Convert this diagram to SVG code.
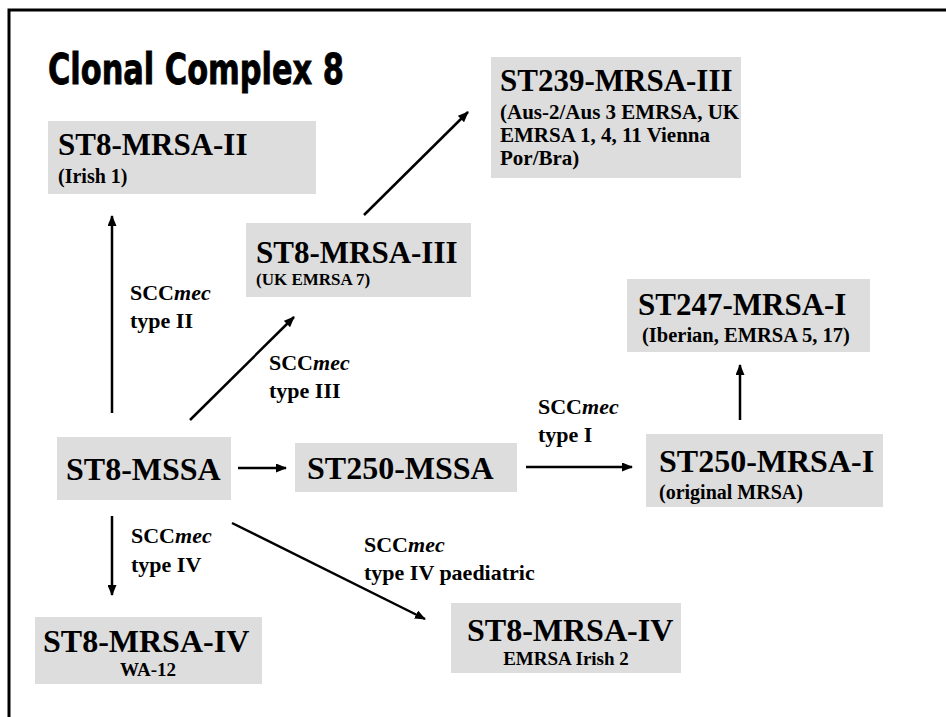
<svg xmlns="http://www.w3.org/2000/svg" width="946" height="717" viewBox="0 0 946 717">
<style>
.bg{fill:#ffffff}
.box{fill:#dddddd}
.t{font-family:"Liberation Serif","Times New Roman",serif;font-weight:bold;fill:#000}
.big{font-size:31px}
.lab{font-size:22px}
.title{font-family:"DejaVu Sans Condensed","DejaVu Sans",sans-serif;font-stretch:condensed;font-weight:bold;font-size:42px;fill:#000;stroke:#000;stroke-width:0.8}
.c{stroke:#000;stroke-width:2.5;fill:none;marker-end:url(#ah)}
</style>
<defs>
<marker id="ah" markerUnits="userSpaceOnUse" markerWidth="11" markerHeight="9" refX="10" refY="4.5" orient="auto">
<path d="M0,0 L11,4.5 L0,9 z" fill="#000"/>
</marker>
</defs>
<rect class="bg" x="0" y="0" width="946" height="717"/>
<path d="M9,717 V10 H946" stroke="#000" stroke-width="3" fill="none"/>
<text class="title" x="48" y="84" textLength="296" lengthAdjust="spacingAndGlyphs">Clonal Complex 8</text>

<g id="connectors">
<line class="c" x1="112" y1="413" x2="112" y2="216"/>
<line class="c" x1="190" y1="420" x2="294" y2="317"/>
<line class="c" x1="364" y1="215" x2="468" y2="112"/>
<line class="c" x1="238" y1="468" x2="286" y2="468"/>
<line class="c" x1="526" y1="467" x2="632" y2="467"/>
<line class="c" x1="740" y1="420" x2="740" y2="365"/>
<line class="c" x1="112" y1="516" x2="112" y2="595"/>
<line class="c" x1="232" y1="523" x2="425" y2="619"/>
<text class="t lab" x="130" y="300">SCC<tspan font-style="italic">mec</tspan></text>
<text class="t lab" x="130" y="328">type II</text>
<text class="t lab" x="269" y="370">SCC<tspan font-style="italic">mec</tspan></text>
<text class="t lab" x="269" y="398">type III</text>
<text class="t lab" x="538" y="414">SCC<tspan font-style="italic">mec</tspan></text>
<text class="t lab" x="538" y="442">type I</text>
<text class="t lab" x="131" y="543">SCC<tspan font-style="italic">mec</tspan></text>
<text class="t lab" x="131" y="572">type IV</text>
<text class="t lab" x="364" y="552">SCC<tspan font-style="italic">mec</tspan></text>
<text class="t lab" x="364" y="580">type IV paediatric</text>
</g>

<g id="st8-mrsa-ii">
<rect class="box" x="48" y="121" width="268" height="73"/>
<text class="t big" x="58" y="155">ST8-MRSA-II</text>
<text class="t" x="58" y="183" font-size="20">(Irish 1)</text>
</g>

<g id="st239-mrsa-iii">
<rect class="box" x="491" y="57" width="250" height="121"/>
<text class="t big" x="500" y="91">ST239-MRSA-III</text>
<text class="t" x="500" y="119" font-size="21">(Aus-2/Aus 3 EMRSA, UK</text>
<text class="t" x="500" y="142" font-size="21">EMRSA 1, 4, 11 Vienna</text>
<text class="t" x="500" y="165" font-size="21">Por/Bra)</text>
</g>

<g id="st8-mrsa-iii">
<rect class="box" x="246" y="223" width="225" height="74"/>
<text class="t big" x="256" y="263">ST8-MRSA-III</text>
<text class="t" x="256" y="285" font-size="17">(UK EMRSA 7)</text>
</g>

<g id="st247-mrsa-i">
<rect class="box" x="627" y="279" width="243" height="73"/>
<text class="t big" x="638" y="315">ST247-MRSA-I</text>
<text class="t" x="642" y="342" font-size="20.5">(Iberian, EMRSA 5, 17)</text>
</g>

<g id="st8-mssa">
<rect class="box" x="57" y="437" width="174" height="63"/>
<text class="t" x="66" y="480" font-size="32">ST8-MSSA</text>
</g>

<g id="st250-mssa">
<rect class="box" x="295" y="443" width="222" height="49"/>
<text class="t" x="307" y="479" font-size="32">ST250-MSSA</text>
</g>

<g id="st250-mrsa-i">
<rect class="box" x="646" y="434" width="237" height="73"/>
<text class="t" x="659" y="472" font-size="32">ST250-MRSA-I</text>
<text class="t" x="659" y="499" font-size="20">(original MRSA)</text>
</g>

<g id="st8-mrsa-iv-wa12">
<rect class="box" x="35" y="617" width="227" height="67"/>
<text class="t" x="43" y="652" font-size="32">ST8-MRSA-IV</text>
<text class="t" x="148" y="676" font-size="19" text-anchor="middle">WA-12</text>
</g>

<g id="st8-mrsa-iv-irish2">
<rect class="box" x="451" y="603" width="230" height="70"/>
<text class="t" x="467" y="641" font-size="32">ST8-MRSA-IV</text>
<text class="t" x="566" y="665" font-size="19" text-anchor="middle">EMRSA Irish 2</text>
</g>
</svg>
